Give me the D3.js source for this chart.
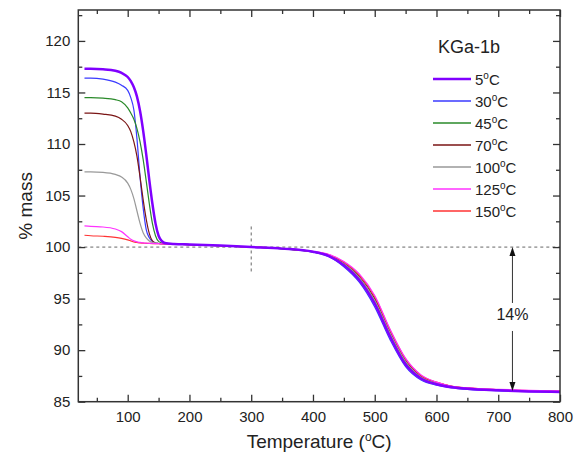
<!DOCTYPE html>
<html><head><meta charset="utf-8">
<script src="https://cdn.jsdelivr.net/npm/d3@7"></script>
<style>body{margin:0;background:#fff}svg{display:block}text{font-family:"Liberation Sans",Arial,sans-serif}</style>
</head><body><svg id="c" width="583" height="465"></svg>
<script>
const temps = [30,40,60,80,90,100,105,110,115,120,125,130,135,140,145,150,155,160,175,200,250,300,350,400,425,450,475,500,525,550,575,600,625,650,700,750,800];
const seriesNames = ["5","30","45","70","100","125","150"];
const seriesColors = ["#8000ff","#3a3aff","#2a8a2a","#7a1515","#999999","#ff33ff","#ff3333"];
const seriesWidths = [2.5,1.2,1.2,1.2,1.2,1.2,1.2];
const mass5 = [117.3,117.3,117.25,117.1,116.9,116.5,116.1,115.5,114.6,113.2,111.3,109.0,106.5,104.2,102.3,101.1,100.6,100.4,100.3,100.25,100.15,100.0,99.85,99.55,99.15,98.25,96.8,94.5,91.3,88.6,87.25,86.7,86.4,86.25,86.1,86.0,85.95];
const mass30 = [116.4,116.4,116.3,116.0,115.7,115.2,114.5,113.3,110.5,106.8,103.8,101.7,100.9,100.55,100.4,100.35,100.33,100.31,100.28,100.23,100.13,100.0,99.83,99.5,99.1,98.1,96.6,94.2,91.0,88.4,87.1,86.6,86.35,86.2,86.05,85.98,85.95];
const mass45 = [114.5,114.5,114.45,114.3,114.1,113.5,113.0,112.4,111.5,110.2,108.5,106.4,104.2,102.3,101.1,100.55,100.4,100.35,100.3,100.24,100.14,100.0,99.84,99.53,99.2,98.35,96.95,94.7,91.5,88.8,87.35,86.75,86.45,86.28,86.12,86.02,85.97];
const mass70 = [113.0,113.0,112.9,112.7,112.4,111.8,111.2,110.2,108.8,106.8,104.6,102.7,101.3,100.6,100.4,100.35,100.33,100.31,100.28,100.23,100.13,100.0,99.85,99.55,99.25,98.45,97.15,95.0,91.8,89.0,87.5,86.85,86.5,86.32,86.15,86.05,86.0];
const mass100 = [107.3,107.3,107.25,107.05,106.8,106.2,105.6,104.7,103.5,102.3,101.4,100.9,100.6,100.45,100.4,100.35,100.33,100.31,100.28,100.23,100.13,100.0,99.85,99.55,99.2,98.4,97.05,94.85,91.65,88.9,87.4,86.8,86.45,86.3,86.12,86.03,85.98];
const mass125 = [102.05,102.0,101.95,101.75,101.5,101.0,100.75,100.6,100.5,100.45,100.4,100.38,100.36,100.35,100.34,100.33,100.32,100.31,100.28,100.23,100.13,100.0,99.86,99.58,99.3,98.6,97.4,95.3,92.0,89.2,87.6,86.9,86.5,86.35,86.2,86.1,86.05];
const mass150 = [101.15,101.1,101.05,100.95,100.85,100.7,100.6,100.5,100.45,100.4,100.38,100.36,100.35,100.34,100.33,100.33,100.32,100.31,100.28,100.23,100.13,100.0,99.86,99.57,99.28,98.55,97.3,95.2,91.95,89.15,87.55,86.9,86.5,86.35,86.18,86.07,86.03];
const seriesMass = [mass5,mass30,mass45,mass70,mass100,mass125,mass150];
const xMajor = [100,200,300,400,500,600,700,800];
const xMinor = [50,150,250,350,450,550,650,750];
const yMajor = [85,90,95,100,105,110,115,120];
const yMinor = [87.5,92.5,97.5,102.5,107.5,112.5,117.5,122.5];
const refMass = 100, refTemp = 300, arrowTemp = 723, arrowBottom = 86.05, lossLabel = "14%";

const L=78.3,R=560,T=10,B=401.7;
const svg=d3.select("#c");
const x=d3.scaleLinear().domain([20,800]).range([L,R]);
const y=d3.scaleLinear().domain([85,123]).range([B,T]);

svg.append("line").attr("x1",L).attr("x2",R).attr("y1",y(refMass)).attr("y2",y(refMass))
  .attr("stroke","#666").attr("stroke-width",1).attr("stroke-dasharray","3,3");
svg.append("line").attr("x1",x(refTemp)).attr("x2",x(refTemp)).attr("y1",y(102)).attr("y2",y(97.6))
  .attr("stroke","#666").attr("stroke-width",1).attr("stroke-dasharray","3,3");

const line=d3.line().x(d=>x(d[0])).y(d=>y(d[1])).curve(d3.curveMonotoneX);
const order=[1,2,3,4,6,5,0];
order.forEach(i=>{
  svg.append("path").datum(temps.map((t,k)=>[t,seriesMass[i][k]]))
    .attr("d",line).attr("fill","none").attr("stroke",seriesColors[i]).attr("stroke-width",seriesWidths[i]);
});

function styleAxis(g){g.select(".domain").remove();g.selectAll(".tick line").attr("stroke","#333").attr("stroke-width",1.3);
  g.selectAll("text").attr("font-size",15).attr("fill","#222");}
svg.append("g").attr("transform",`translate(0,${B})`).call(d3.axisBottom(x).tickValues(xMajor).tickSize(-7).tickPadding(10).tickFormat(d3.format("d"))).call(styleAxis);
svg.append("g").attr("transform",`translate(0,${B})`).call(d3.axisBottom(x).tickValues(xMinor).tickSize(-4).tickFormat("")).call(styleAxis);
svg.append("g").attr("transform",`translate(0,${T})`).call(d3.axisTop(x).tickValues(xMajor).tickSize(-7).tickFormat("")).call(styleAxis);
svg.append("g").attr("transform",`translate(0,${T})`).call(d3.axisTop(x).tickValues(xMinor).tickSize(-4).tickFormat("")).call(styleAxis);
svg.append("g").attr("transform",`translate(${L},0)`).call(d3.axisLeft(y).tickValues(yMajor).tickSize(-7).tickPadding(8).tickFormat(d3.format("d"))).call(styleAxis);
svg.append("g").attr("transform",`translate(${L},0)`).call(d3.axisLeft(y).tickValues(yMinor).tickSize(-4).tickFormat("")).call(styleAxis);
svg.append("g").attr("transform",`translate(${R},0)`).call(d3.axisRight(y).tickValues(yMajor).tickSize(-7).tickFormat("")).call(styleAxis);
svg.append("g").attr("transform",`translate(${R},0)`).call(d3.axisRight(y).tickValues(yMinor).tickSize(-4).tickFormat("")).call(styleAxis);
svg.append("rect").attr("x",L).attr("y",T).attr("width",R-L).attr("height",B-T)
  .attr("fill","none").attr("stroke","#333").attr("stroke-width",1.5);

const xt=svg.append("text").attr("x",(L+R)/2).attr("y",448).attr("text-anchor","middle").attr("font-size",19).attr("fill","#222");
xt.append("tspan").text("Temperature (");
xt.append("tspan").attr("font-size",12).attr("dy",-7).text("o");
xt.append("tspan").attr("dy",7).text("C)");
svg.append("text").attr("transform",`translate(32,${(T+B)/2}) rotate(-90)`).attr("text-anchor","middle")
  .attr("font-size",19).attr("fill","#222").text("% mass");

// legend
svg.append("text").attr("x",438).attr("y",53).attr("font-size",18).attr("fill","#222").text("KGa-1b");
const leg=svg.append("g").attr("class","legend");
seriesNames.forEach((n,i)=>{
  const yy=79+i*22;
  leg.append("path").attr("d",`M433,${yy}H471`).attr("fill","none")
    .style("stroke",seriesColors[i]).style("stroke-width",i===0?2.5:1.4);
  const t=leg.append("text").attr("x",475).attr("y",yy+5.5).attr("font-size",15).attr("fill","#222");
  t.append("tspan").text(n);
  t.append("tspan").attr("font-size",10).attr("dy",-6).text("o");
  t.append("tspan").attr("dy",6).text("C");
});

const ax=x(arrowTemp), yTop=y(refMass), yBot=y(arrowBottom), yMid=(yTop+yBot)/2;
svg.append("line").attr("x1",ax).attr("x2",ax).attr("y1",yTop+8).attr("y2",yMid-16).attr("stroke","#333").attr("stroke-width",1);
svg.append("line").attr("x1",ax).attr("x2",ax).attr("y1",yMid+12).attr("y2",yBot-8).attr("stroke","#333").attr("stroke-width",1);
svg.append("path").attr("d",`M${ax},${yTop} L${ax-3},${yTop+9} L${ax+3},${yTop+9}Z`).attr("fill","#111");
svg.append("path").attr("d",`M${ax},${yBot} L${ax-3},${yBot-9} L${ax+3},${yBot-9}Z`).attr("fill","#111");
svg.append("text").attr("x",ax).attr("y",yMid+1).attr("text-anchor","middle").attr("font-size",16).attr("fill","#222").text(lossLabel);
</script></body></html>
